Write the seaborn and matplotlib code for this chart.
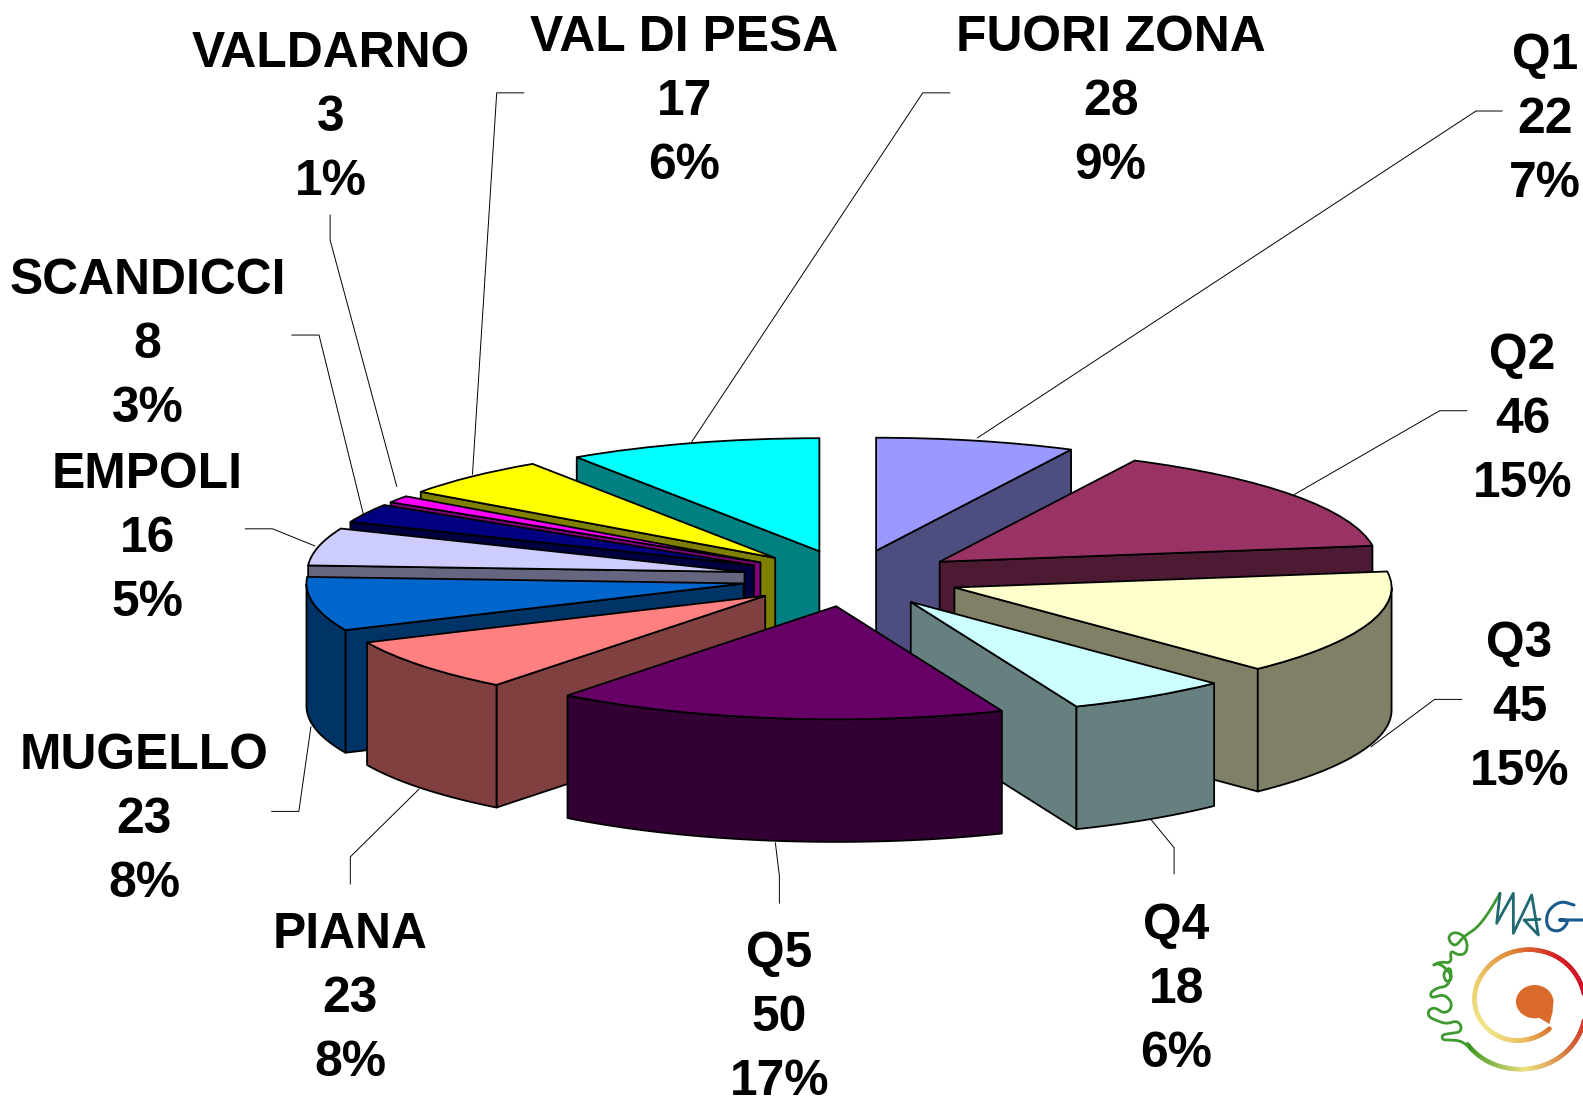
import numpy as np
import seaborn as sns
import matplotlib.pyplot as plt
from matplotlib.collections import LineCollection
from matplotlib.colors import LinearSegmentedColormap
from matplotlib.patches import Ellipse, Polygon

sns.set_theme(style="white")
plt.rcParams['font.family'] = ['Liberation Sans', 'DejaVu Sans']

# data
zones = ["Q1", "Q2", "Q3", "Q4", "Q5", "PIANA", "MUGELLO", "EMPOLI",
         "SCANDICCI", "VALDARNO", "VAL DI PESA", "FUORI ZONA"]
counts = [22, 46, 45, 18, 50, 23, 23, 16, 8, 3, 17, 28]
top_colors = ["#9999FF", "#993366", "#FFFFCC", "#CCFFFF", "#660066", "#FF8080",
              "#0066CC", "#CCCCFF", "#000080", "#FF00FF", "#FFFF00", "#00FFFF"]

# layout, in pixels of a 1568x1087 canvas
W, H = 1568, 1087
cx, cy, rx, ry = 843, 573, 433, 112
depth = 121.5 / ry
label_x = [1530, 1508, 1505, 1165, 772, 347, 143, 146, 146, 328, 678, 1100]
label_y = [119, 416, 702, 981, 1009, 990, 813, 534, 342, 117, 101, 101]
leaders = [
    [(1488, 110), (1462, 110), (968, 434)],
    [(1453, 407), (1426, 407), (1282, 490)],
    [(1448, 693), (1421, 693), (1358, 740)],
    [(1163, 866), (1163, 840), (1140, 812)],
    [(772, 895), (772, 868), (768, 835)],
    [(347, 876), (347, 849), (415, 782)],
    [(269, 804), (296, 804), (308, 720)],
    [(243, 524), (270, 524), (312, 541)],
    [(289, 332), (316, 332), (360, 510)],
    [(327, 213), (327, 238), (393, 482)],
    [(519, 92), (492, 92), (468, 470)],
    [(941, 92), (914, 92), (685, 438)],
]

fig = plt.figure(figsize=(15.83, 10.97), dpi=100)
ax = fig.add_axes([0, 0, 1, 1])

palette = sns.color_palette(top_colors)
wedges, _ = ax.pie(counts, colors=palette, startangle=90, counterclock=False,
                   explode=[0.25] * len(counts),
                   wedgeprops=dict(edgecolor="black", linewidth=1.3))
ax.set_aspect("auto")
ax.set_xlim(-cx / rx, (W - cx) / rx)
ax.set_ylim((cy - H) / ry, cy / ry)


def add_face(xs, ys, color, z):
    pts = np.r_[np.c_[xs, ys], np.c_[xs[::-1], np.array(ys[::-1]) - depth]]
    ax.add_patch(Polygon(pts, closed=True, facecolor=color, edgecolor="black",
                         linewidth=1.3, zorder=z, joinstyle="round"))


# back slices first so the front ones paint over them
order = np.argsort([-w.center[1] for w in wedges])
for rank, i in enumerate(order):
    w = wedges[i]
    dark = tuple(c * 0.5 for c in palette[i])
    x0, y0 = w.center
    z = 10 + rank * 3
    t1, t2 = np.radians(w.theta1), np.radians(w.theta2)
    if np.cos(t1) > 1e-6:
        add_face([x0, x0 + np.cos(t1)], [y0, y0 + np.sin(t1)], dark, z)
    if np.cos(t2) < -1e-6:
        add_face([x0, x0 + np.cos(t2)], [y0, y0 + np.sin(t2)], dark, z)
    arc = np.linspace(t1, t2, 80)
    arc = arc[np.sin(arc) < 0]
    if len(arc) > 1:
        add_face(x0 + np.cos(arc), y0 + np.sin(arc), dark, z + 1)
    w.set_zorder(z + 2)

# labels and logo go on a pixel overlay
over = fig.add_axes([0, 0, 1, 1])
over.set_xlim(0, W)
over.set_ylim(H, 0)
over.axis("off")
over.patch.set_alpha(0)

total = sum(counts)
for name, n, lx, ly, line in zip(zones, counts, label_x, label_y, leaders):
    txt = f"{name}\n{n}\n{round(n / total * 100)}%"
    over.text(lx, ly, txt, ha="center", va="center", fontsize=35.8,
              fontweight="bold", color="black", linespacing=1.5,
              family=['Liberation Sans', 'DejaVu Sans'])
    over.plot(*zip(*line), color="black", lw=0.7)


# logo, traced on the 3x crop of the corner
def logo_xy(pts):
    pts = np.asarray(pts, float)
    return (pts[:, 0] / 3 + 1400) * W / 1583, (pts[:, 1] / 3 + 870) * H / 1097


def smooth(pts, n=3):
    pts = np.asarray(pts, float)
    for _ in range(n):
        a = 0.75 * pts[:-1] + 0.25 * pts[1:]
        b = 0.25 * pts[:-1] + 0.75 * pts[1:]
        mid = np.empty((2 * len(a), 2))
        mid[0::2], mid[1::2] = a, b
        pts = np.r_[pts[:1], mid, pts[-1:]]
    return pts


spiral_ang = np.radians([50, 90, 180, 270, 360, 450, 506])
spiral_rad = [98, 105, 165, 160, 170, 195, 223]
ang = np.linspace(spiral_ang[0], spiral_ang[-1], 400)
rad = np.convolve(np.pad(np.interp(ang, spiral_ang, spiral_rad), 20, mode="edge"),
                  np.ones(41) / 41, mode="valid")
sx, sy = logo_xy(np.c_[385 + rad * np.cos(ang), 400 + rad * np.sin(ang)])
spiral_cmap = LinearSegmentedColormap.from_list(
    "spiral", ["#D9702A", "#EBC060", "#F0E68C", "#EFD070", "#DD8A3A", "#D42020",
               "#D0102A", "#D06030", "#EEE080", "#3A9A20"])
segs = np.stack([np.c_[sx[:-1], sy[:-1]], np.c_[sx[1:], sy[1:]]], axis=1)
over.add_collection(LineCollection(segs, cmap=spiral_cmap, array=np.linspace(0, 1, len(segs)),
                                   linewidths=3.2, capstyle="round"))
bx, by = logo_xy([[404, 395]])
over.add_patch(Ellipse((bx[0], by[0]), 37, 33, facecolor="#D96A2B", edgecolor="none"))
tx, ty = logo_xy([[460, 385], [458, 425], [448, 462], [412, 440]])
over.add_patch(Polygon(np.c_[tx, ty], facecolor="#D96A2B", edgecolor="none"))

verso = [(200, 525), (180, 512), (150, 510), (128, 510), (125, 495), (150, 490),
         (180, 487), (185, 468), (170, 452), (140, 462), (110, 452), (85, 440),
         (85, 420), (105, 412), (130, 430), (152, 420), (155, 395), (130, 372),
         (95, 385), (90, 368), (115, 352), (140, 350), (155, 320), (150, 290),
         (128, 310), (140, 340), (160, 320), (120, 278), (95, 288), (120, 275),
         (155, 280), (150, 240), (175, 256), (198, 250), (203, 222), (190, 195),
         (160, 185), (142, 205), (165, 232), (190, 200), (230, 175), (265, 130),
         (300, 70)]
vx, vy = logo_xy(smooth(verso))
over.plot(vx, vy, color="#3E9A30", lw=2, solid_capstyle="round")
mag = [(300, 70), (290, 160), (340, 70), (340, 190), (395, 75), (415, 195),
       (372, 150), (420, 148)]
gee = smooth([(522, 105), (480, 92), (440, 125), (440, 175), (480, 187), (510, 150),
              (465, 150), (549, 150)])
mx, my = logo_xy(mag)
over.plot(mx, my, color="#1F6A72", lw=2)
gx, gy = logo_xy(gee)
over.plot(gx, gy, color="#1A5A8A", lw=2.2)

fig.savefig("out.png", dpi=100)
